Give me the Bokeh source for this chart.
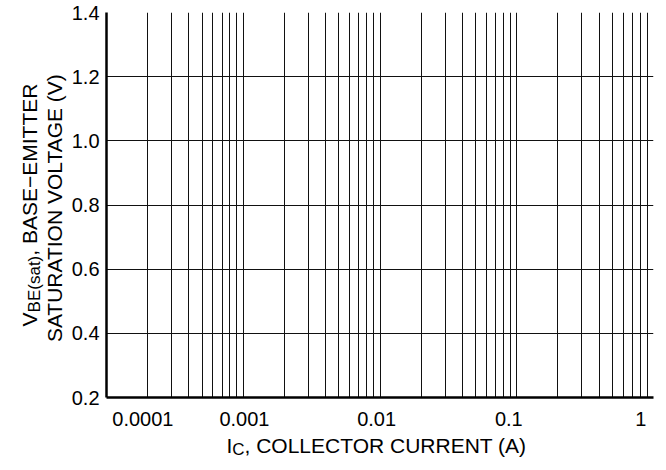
import math
from bokeh.plotting import figure
from bokeh.layouts import column, row
from bokeh.models import FixedTicker, Range1d, CustomJSTickFormatter
from bokeh.core.properties import value
from bokeh.embed import file_html
from bokeh.resources import INLINE

# ---- axis data -------------------------------------------------------------
x_ticks = [1e-4, 1e-3, 1e-2, 1e-1, 1.0]
x_tick_labels = ["0.0001", "0.001", "0.01", "0.1", "1"]
x_minor_mult = [2, 3, 4, 5, 6, 7, 8, 9]
x_decades = [1e-4, 1e-3, 1e-2, 1e-1]

y_ticks = [0.2, 0.4, 0.6, 0.8, 1.0, 1.2, 1.4]
y_tick_labels = ["0.2", "0.4", "0.6", "0.8", "1.0", "1.2", "1.4"]
y_grid_lines = [0.4, 0.6, 0.8, 1.0, 1.2]

x_title = [("I", "main"), ("C", "sub"), (", COLLECTOR CURRENT (A)", "main")]
y_title_1 = [("V", "main"), ("BE(sat)", "sub"), (", BASE\u2212EMITTER", "main")]
y_title_2 = [("SATURATION VOLTAGE (V)", "main")]

FONT = "Liberation Sans"
TICK_SIZE = 20
TITLE_SIZE = 21
SUB_SIZE = 17
SIZES = {"main": TITLE_SIZE, "sub": SUB_SIZE}

# Arial / Liberation Sans advance widths (em)
W = {c: 0.556 for c in "0123456789"}
W.update({".": 0.278, ",": 0.278, " ": 0.278, "(": 0.333, ")": 0.333, "\u2212": 0.584,
          "A": 0.667, "B": 0.667, "C": 0.722, "E": 0.667, "G": 0.778, "I": 0.278,
          "L": 0.556, "M": 0.833, "N": 0.722, "O": 0.778, "R": 0.722, "S": 0.667,
          "T": 0.611, "U": 0.722, "V": 0.667, "a": 0.556, "s": 0.5, "t": 0.278})


def tw(s, size):
    return sum(W.get(c, 0.6) for c in s) * size


# ---- page geometry (pixels) -----------------------------------------------
WIDTH, HEIGHT = 666, 470
YW = 100                  # strip on the left: y tick labels + y title
PH = 400                  # height of the main chart figure
FL, FR, FT, FB = 106, 653, 12, 397   # frame edges on the page
TICK_BASE = 418           # baseline of x tick labels (page y)
TITLE_BASE = 445          # baseline of x title (page y)

y0, y1 = y_ticks[0], y_ticks[-1]
vpp = (y1 - y0) / (FB - FT)          # y value per pixel


def yval(py):
    """page y pixel -> value on the chart's y scale"""
    return y1 - (py - FT) * vpp


lo, hi = math.log10(x_ticks[0]), math.log10(x_ticks[-1])
dpp = (hi - lo) / (FR - FL)          # decades per pixel


def helper(w, h, xr, yr, **kw):
    f = figure(width=w, height=h, x_range=xr, y_range=yr, output_backend="svg",
               toolbar_location=None, x_axis_location=None, y_axis_location=None,
               min_border=0, title=None, **kw)
    f.outline_line_color = None
    f.grid.visible = False
    f.background_fill_color = "white"
    f.border_fill_color = "white"
    return f


def txt(fig, size, **kw):
    fig.text(text_font=value(FONT), text_font_size=value(f"{size}px"),
             text_color="black", **kw)


# ---- main chart -------------------------------------------------------------
p = figure(width=WIDTH - YW, height=PH, x_axis_type="log", title=None,
           x_range=Range1d(x_ticks[0], x_ticks[-1]),
           y_range=Range1d(y0, y1),
           output_backend="svg", toolbar_location=None,
           min_border_left=FL - YW, min_border_right=WIDTH - FR,
           min_border_top=FT, min_border_bottom=PH - FB)
p.outline_line_color = None
p.background_fill_color = "white"
p.border_fill_color = "white"

blank = CustomJSTickFormatter(code="return ''")
for ax in (p.xaxis, p.yaxis):
    ax.formatter = blank
    ax.major_label_text_font_size = "1px"
    ax.major_label_standoff = 0
    ax.major_tick_line_color = None
    ax.minor_tick_line_color = None
    ax.major_tick_out = 0
    ax.minor_tick_out = 0
    ax.axis_line_color = "black"
    ax.axis_line_width = 2.5

p.xaxis.ticker = FixedTicker(ticks=x_ticks,
                             minor_ticks=[m * d for d in x_decades for m in x_minor_mult])
p.xgrid.grid_line_color = "#111111"
p.xgrid.grid_line_width = 1
p.xgrid.minor_grid_line_color = "#111111"
p.xgrid.minor_grid_line_width = 1

p.yaxis.ticker = FixedTicker(ticks=y_ticks)
p.ygrid.ticker = FixedTicker(ticks=y_grid_lines)
p.ygrid.grid_line_color = "#111111"
p.ygrid.grid_line_width = 1

# ---- strip below the chart: x tick labels and x title -----------------------
BH = HEIGHT - PH
xb = helper(WIDTH - YW, BH,
            Range1d(10 ** (lo - (FL - YW) * dpp), 10 ** (hi + (WIDTH - FR) * dpp)),
            Range1d(BH, 0), x_axis_type="log")

tb = TICK_BASE - PH
txt(xb, TICK_SIZE, x=x_ticks[:1], y=[tb], text=x_tick_labels[:1],
    text_align="left", text_baseline="alphabetic")
txt(xb, TICK_SIZE, x=x_ticks[1:], y=[tb] * (len(x_ticks) - 1), text=x_tick_labels[1:],
    text_align="center", text_baseline="alphabetic")

centre = 10 ** ((lo + hi) / 2)
total = sum(tw(s, SIZES[k]) for s, k in x_title)
off = -total / 2
for s, k in x_title:
    txt(xb, SIZES[k], x=[centre], y=[TITLE_BASE - PH + (4 if k == "sub" else 0)],
        text=[s], x_offset=off, text_align="left", text_baseline="alphabetic")
    off += tw(s, SIZES[k])

# ---- strip on the left: y tick labels and y title ---------------------------
yl = helper(YW, HEIGHT, Range1d(0, YW), Range1d(yval(HEIGHT), yval(0)))

txt(yl, TICK_SIZE, x=[FL - 7] * len(y_ticks), y=y_ticks, text=y_tick_labels,
    text_align="right", text_baseline="middle")

for parts, bx in ((y_title_1, 29), (y_title_2, 54)):
    total = sum(tw(s, SIZES[k]) for s, k in parts)
    cy = (FT + FB) / 2 + total / 2
    for s, k in parts:
        txt(yl, SIZES[k], x=[bx + (5 if k == "sub" else 0)], y=[yval(cy)], text=[s],
            angle=math.pi / 2, text_align="left", text_baseline="alphabetic")
        cy -= tw(s, SIZES[k])

layout = row(yl, column(p, xb, spacing=0), spacing=0)
open("out.html", "w").write(file_html(layout, INLINE))
